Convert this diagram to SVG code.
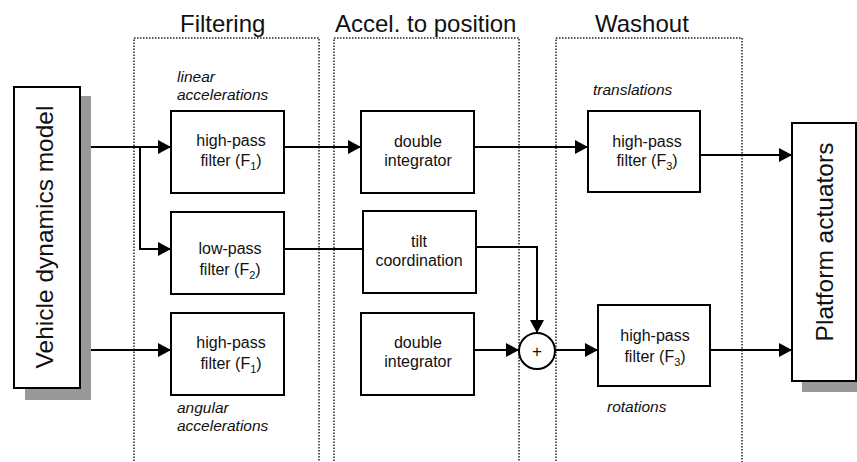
<svg xmlns="http://www.w3.org/2000/svg" width="857" height="462" viewBox="0 0 857 462">
  <style>
    .box { fill: #fff; stroke: #000; stroke-width: 2; }
    .shadow { fill: #999; stroke: none; }
    .stage { fill: none; stroke: #222; stroke-width: 1.5; stroke-dasharray: 1.5 1.5; }
    .wire { fill: none; stroke: #000; stroke-width: 2; }
    .arrow { marker-end: url(#head); }
    text { font-family: "Liberation Sans", Arial, sans-serif; fill: #111; }
    .title { font-size: 24px; }
    .lbl { font-size: 16px; text-anchor: middle; }
    .ital { font-size: 15.5px; font-style: italic; }
    .big { font-size: 24.5px; text-anchor: middle; }
    .sub { font-size: 11px; }
  </style>
  <defs>
    <marker id="head" viewBox="0 0 13 14" refX="13" refY="7" markerWidth="13" markerHeight="14" markerUnits="userSpaceOnUse" orient="auto">
      <path d="M0,0 L13,7 L0,14 Z" fill="#000"/>
    </marker>
  </defs>

  <rect width="857" height="462" fill="#fff"/>

  <!-- processing stages -->
  <g id="stages">
    <path class="stage" d="M134,470 V38 H319 V470"/>
    <path class="stage" d="M334,470 V38 H519 V470"/>
    <path class="stage" d="M556,470 V38 H742 V470"/>
    <text class="title" x="180" y="32">Filtering</text>
    <text class="title" x="335" y="32">Accel. to position</text>
    <text class="title" x="595" y="32">Washout</text>
  </g>

  <!-- signal labels -->
  <g id="labels">
    <text class="ital" x="177" y="82">linear</text>
    <text class="ital" x="177" y="100">accelerations</text>
    <text class="ital" x="177" y="413">angular</text>
    <text class="ital" x="177" y="431">accelerations</text>
    <text class="ital" x="593" y="95">translations</text>
    <text class="ital" x="607" y="412">rotations</text>
  </g>

  <!-- connectors -->
  <g id="connectors">
    <path class="wire arrow" d="M78,147 H171"/>
    <path class="wire arrow" d="M140,147 V249 H171"/>
    <path class="wire arrow" d="M78,350 H171"/>
    <path class="wire arrow" d="M284,147 H361"/>
    <path class="wire arrow" d="M474,147 H588"/>
    <path class="wire arrow" d="M700,155 H792"/>
    <path class="wire" d="M284,249 H363"/>
    <path class="wire arrow" d="M476,247 H537 V333"/>
    <path class="wire arrow" d="M474,350 H519"/>
    <path class="wire arrow" d="M555,350 H598"/>
    <path class="wire arrow" d="M710,350 H792"/>
  </g>

  <g id="vehicle-model">
    <rect class="shadow" x="25" y="96" width="66" height="304"/>
    <rect class="box" x="14" y="87" width="66" height="301"/>
    <text class="big" transform="translate(53,237) rotate(-90)">Vehicle dynamics model</text>
  </g>

  <g id="hp-filter-linear">
    <rect class="box" x="171" y="111" width="113" height="82"/>
    <text class="lbl" x="231" y="146">high-pass</text>
    <text class="lbl" x="231" y="166">filter (F<tspan class="sub" dy="4">1</tspan><tspan dy="-4">)</tspan></text>
  </g>

  <g id="lp-filter">
    <rect class="box" x="171" y="212" width="113" height="82"/>
    <text class="lbl" x="230" y="254">low-pass</text>
    <text class="lbl" x="230" y="275">filter (F<tspan class="sub" dy="4">2</tspan><tspan dy="-4">)</tspan></text>
  </g>

  <g id="hp-filter-angular">
    <rect class="box" x="171" y="313" width="113" height="82"/>
    <text class="lbl" x="231" y="348">high-pass</text>
    <text class="lbl" x="231" y="369">filter (F<tspan class="sub" dy="4">1</tspan><tspan dy="-4">)</tspan></text>
  </g>

  <g id="integrator-linear">
    <rect class="box" x="361" y="111" width="113" height="82"/>
    <text class="lbl" x="418" y="147">double</text>
    <text class="lbl" x="418" y="166">integrator</text>
  </g>

  <g id="tilt-coordination">
    <rect class="box" x="363" y="211" width="113" height="82"/>
    <text class="lbl" x="419" y="247">tilt</text>
    <text class="lbl" x="419" y="266">coordination</text>
  </g>

  <g id="integrator-angular">
    <rect class="box" x="361" y="313" width="113" height="82"/>
    <text class="lbl" x="418" y="348">double</text>
    <text class="lbl" x="418" y="367">integrator</text>
  </g>

  <g id="sum">
    <circle cx="537" cy="351" r="18" fill="#fff" stroke="#000" stroke-width="2"/>
    <text x="537" y="357" font-size="17" text-anchor="middle">+</text>
  </g>

  <g id="hp-washout-translations">
    <rect class="box" x="588" y="111" width="112" height="81"/>
    <text class="lbl" x="647" y="147">high-pass</text>
    <text class="lbl" x="647" y="166">filter (F<tspan class="sub" dy="4">3</tspan><tspan dy="-4">)</tspan></text>
  </g>

  <g id="hp-washout-rotations">
    <rect class="box" x="598" y="305" width="112" height="81"/>
    <text class="lbl" x="655" y="341">high-pass</text>
    <text class="lbl" x="655" y="362">filter (F<tspan class="sub" dy="4">3</tspan><tspan dy="-4">)</tspan></text>
  </g>

  <g id="platform-actuators">
    <rect class="shadow" x="802" y="130" width="66" height="262"/>
    <rect class="box" x="792" y="123" width="64" height="258"/>
    <text class="big" transform="translate(833,242) rotate(-90)">Platform actuators</text>
  </g>
</svg>
